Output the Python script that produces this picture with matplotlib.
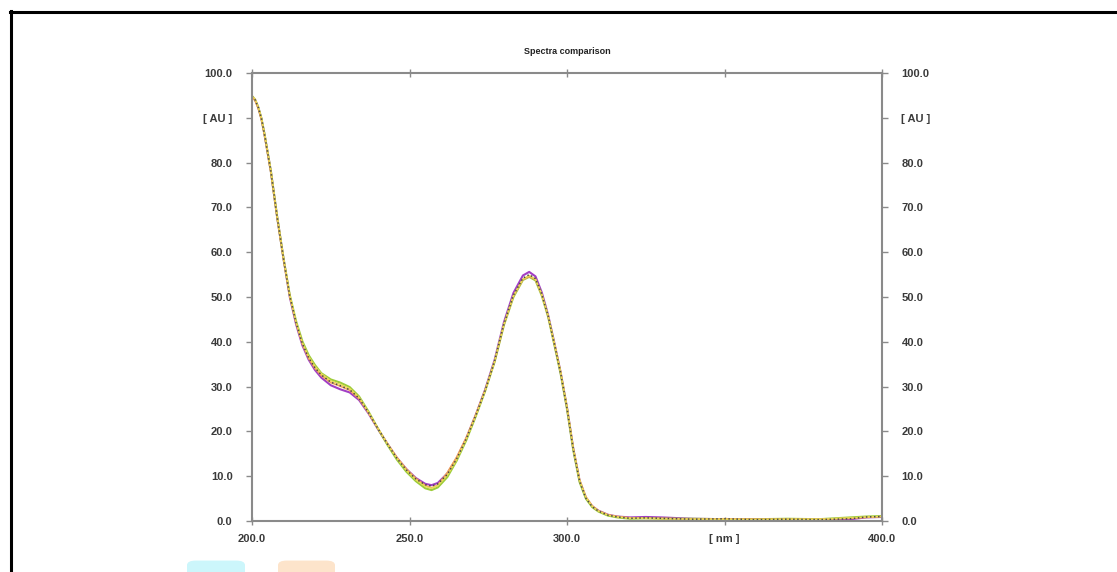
import matplotlib
matplotlib.use("Agg")
import matplotlib.pyplot as plt
from matplotlib.lines import Line2D
from matplotlib.patches import FancyBboxPatch

# longueurs d'onde (nm)
wavelengths = [200, 201, 202, 203, 204, 206, 208, 210, 212, 214, 216, 218, 220, 222,
               225, 228, 231, 234, 237, 240, 243, 246, 249, 252, 255, 257, 259, 262,
               265, 268, 271, 274, 277, 280, 283, 286, 288, 290, 292, 294, 296, 298,
               300, 302, 304, 306, 308, 310, 313, 316, 320, 325, 330, 340, 350, 360,
               370, 380, 390, 395, 400]

# spectres (AU)
spec_dark = [94.8, 94.0, 92.3, 89.8, 86.2, 78.0, 67.8, 58.6, 50.2, 44.2, 39.6, 36.4, 34.2, 32.6,
             31.0, 30.2, 29.3, 27.4, 24.2, 20.6, 17.2, 14.0, 11.4, 9.4, 8.1, 7.8, 8.3, 10.4,
             13.9, 18.3, 23.5, 29.1, 35.6, 44.0, 50.4, 54.2, 55.0, 54.1, 50.6, 45.8, 39.5, 33.0,
             25.2, 16.0, 8.9, 5.1, 3.2, 2.2, 1.3, 0.9, 0.6, 0.7, 0.6, 0.4, 0.5, 0.3,
             0.4, 0.3, 0.5, 0.9, 1.0]
spec_purple = [94.8, 94.0, 92.3, 89.8, 86.2, 78.0, 67.8, 58.6, 50.0, 43.9, 39.2, 36.0, 33.7, 32.0,
               30.3, 29.4, 28.7, 27.0, 24.0, 20.5, 17.2, 14.1, 11.6, 9.6, 8.3, 8.0, 8.5, 10.6,
               14.0, 18.4, 23.6, 29.3, 35.9, 44.4, 50.9, 54.8, 55.6, 54.6, 51.0, 46.0, 39.7, 33.1,
               25.3, 16.1, 9.0, 5.2, 3.3, 2.3, 1.4, 1.0, 0.8, 0.9, 0.8, 0.5, 0.4, 0.4,
               0.3, 0.4, 0.4, 0.8, 0.9]
spec_green = [94.8, 94.0, 92.3, 89.8, 86.2, 78.0, 67.8, 58.6, 50.4, 44.6, 40.1, 37.0, 34.8, 33.0,
              31.6, 30.9, 29.9, 27.8, 24.4, 20.6, 17.0, 13.7, 11.0, 8.9, 7.3, 6.9, 7.5, 9.8,
              13.5, 18.0, 23.3, 29.0, 35.5, 43.8, 50.0, 53.8, 54.5, 53.7, 50.3, 45.6, 39.3, 32.8,
              25.0, 15.8, 8.7, 5.0, 3.1, 2.1, 1.2, 0.8, 0.5, 0.6, 0.5, 0.5, 0.4, 0.4,
              0.5, 0.4, 0.8, 1.0, 1.1]
spec_orange = [94.6, 93.8, 92.1, 89.6, 86.0, 77.8, 67.6, 58.4, 50.1, 44.1, 39.5, 36.3, 34.1, 32.5,
               30.9, 30.1, 29.2, 27.3, 24.1, 20.6, 17.3, 14.2, 11.6, 9.5, 7.9, 7.4, 8.0, 10.8,
               14.3, 18.6, 23.7, 29.2, 35.6, 43.9, 50.2, 53.9, 54.6, 53.9, 50.5, 45.8, 39.6, 33.2,
               25.4, 16.3, 9.2, 5.4, 3.4, 2.3, 1.4, 1.0, 0.7, 0.6, 0.6, 0.4, 0.5, 0.4,
               0.4, 0.4, 0.6, 0.8, 1.0]
spec_yellow = [95.0, 94.2, 92.5, 90.0, 86.5, 78.3, 68.1, 58.9, 50.5, 44.4, 39.8, 36.7, 34.5, 32.9,
               31.3, 30.5, 29.6, 27.6, 24.3, 20.7, 17.2, 14.0, 11.3, 9.2, 7.7, 7.3, 7.9, 10.2,
               13.7, 18.2, 23.4, 29.0, 35.5, 43.9, 50.3, 54.0, 54.8, 54.0, 50.6, 45.9, 39.7, 33.2,
               25.5, 16.2, 9.1, 5.3, 3.3, 2.2, 1.3, 0.9, 0.6, 0.6, 0.5, 0.4, 0.4, 0.3,
               0.4, 0.4, 0.7, 0.9, 1.0]

# ordre de trace : violet dessous, pointillé sombre dessus
series = [
    (spec_purple, "#a23fc4", "-", 1.5),
    (spec_green, "#9ccc3a", "-", 1.5),
    (spec_orange, "#f2a55a", "-", 1.2),
    (spec_yellow, "#e8dc55", "-", 1.0),
    (spec_dark, "#4a4a4a", ":", 1.1),
]

x_ticks = [200, 250, 300, 350, 400]
x_labels = ["200.0", "250.0", "300.0", "[ nm ]", "400.0"]
y_ticks = [0, 10, 20, 30, 40, 50, 60, 70, 80, 90, 100]
y_labels = ["0.0", "10.0", "20.0", "30.0", "40.0", "50.0", "60.0", "70.0", "80.0", "[ AU ]", "100.0"]

plt.rcParams["font.family"] = ["Liberation Sans", "DejaVu Sans"]

W, H = 1117, 572
fig = plt.figure(figsize=(W / 100, H / 100), dpi=100)
ax = fig.add_axes([252 / W, 1 - 521 / H, 630 / W, 448 / H])

for vals, col, ls, lw in series:
    ax.plot(wavelengths, vals, color=col, linestyle=ls, linewidth=lw, solid_capstyle="round")

ax.set_xlim(200, 400)
ax.set_ylim(0, 100)

spine_col = "#8a8a8a"
for s in ax.spines.values():
    s.set_color(spine_col)
    s.set_linewidth(1.5)

ax.set_xticks(x_ticks)
ax.set_xticklabels(x_labels)
ax.set_yticks(y_ticks)
ax.set_yticklabels(y_labels)
ax.tick_params(axis="x", direction="inout", length=6, width=1, color=spine_col,
               top=True, labelsize=8, labelcolor="#3a3a3a", pad=6)
ax.tick_params(axis="y", direction="out", length=4, width=1, color=spine_col,
               right=True, labelright=True, labelsize=8, labelcolor="#3a3a3a", pad=10)
for lab in ax.get_xticklabels() + ax.get_yticklabels():
    lab.set_fontweight("bold")
for lab in ax.yaxis.get_majorticklabels():
    lab.set_fontweight("bold")

fig.text(567 / W, 1 - 51 / H, "Spectra comparison", ha="center", va="center",
         fontsize=6.5, fontweight="bold", color="#222222")

# cadre noir
fig.add_artist(Line2D([10.5 / W, 10.5 / W], [0, 1 - 11 / H], color="black", linewidth=2.2))
fig.add_artist(Line2D([10 / W, 1], [1 - 11.5 / H, 1 - 11.5 / H], color="black", linewidth=2.2))

# restes du logo en bas
fig.add_artist(FancyBboxPatch((187 / W, -0.01), 58 / W, 0.03,
                              boxstyle="round,pad=0,rounding_size=0.008",
                              transform=fig.transFigure, facecolor="#ccf6fb", edgecolor="none"))
fig.add_artist(FancyBboxPatch((278 / W, -0.01), 57 / W, 0.03,
                              boxstyle="round,pad=0,rounding_size=0.008",
                              transform=fig.transFigure, facecolor="#fde4cb", edgecolor="none"))

fig.savefig("out.png", dpi=100)
